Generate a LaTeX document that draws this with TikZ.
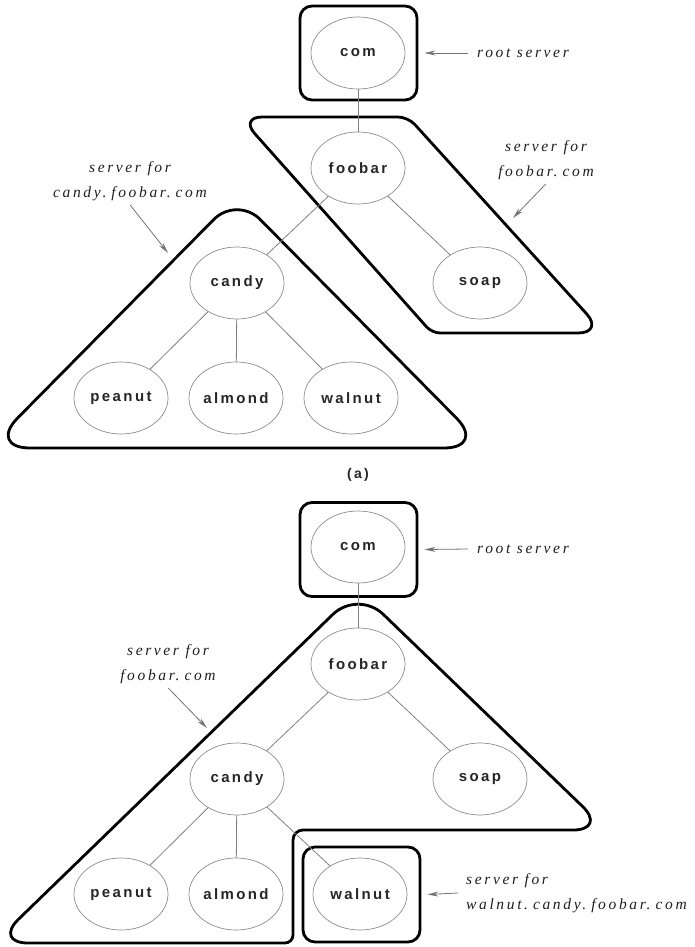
\documentclass[tikz,border=0pt]{standalone}
\usepackage{fontspec}
\usetikzlibrary{shapes.geometric,arrows.meta}
\newfontfamily\nodefont[LetterSpace=16]{Liberation Sans}
\newfontfamily\annfont[LetterSpace=17]{Liberation Serif}
\newcommand{\dt}{.\kern5pt}
\begin{document}
\begin{tikzpicture}[x=1pt,y=-1pt,
  dn/.style={ellipse, draw=black!45, line width=0.7pt, minimum width=94pt, minimum height=72pt, inner sep=0pt,
    font=\nodefont\bfseries\fontsize{15}{18}\selectfont, text=black!85},
  edge/.style={draw=black!50, line width=0.8pt},
  srv/.style={draw=black, line width=2.8pt, rounded corners=12pt, minimum width=117pt, minimum height=94pt, inner sep=0pt},
  zone/.style={draw=black, line width=2.8pt, line join=round},
  ann/.style={font=\annfont\itshape\fontsize{15.5}{25}\selectfont, text=black!88, align=center, inner sep=0pt},
  ptr/.style={draw=black!55, line width=0.8pt, -{Stealth[length=11pt,width=5pt]}},
]
\useasboundingbox (0,0) rectangle (695,947);

% ---------------- (a) ----------------
\draw[zone] (324,117) [rounded corners=22pt] -- (240,117) [rounded corners=8pt] -- (432,333) [rounded corners=26pt] -- (604,333) [rounded corners=10pt] -- (408,117) -- cycle;
\draw[zone] (237,448) [rounded corners=42pt] -- (-12,448) [rounded corners=33pt] -- (237,196) [rounded corners=42pt] -- (486,448) -- cycle;
\node[srv] (boxA) at (358.5,53) {};

\node[dn] (comA) at (358,53) {com};
\node[dn] (fooA) at (358,168) {foobar};
\node[dn] (soapA) at (480,283) {soap};
\node[dn] (candyA) at (237,283) {candy};
\node[dn] (peaA) at (121,398) {peanut};
\node[dn] (almA) at (236,398) {almond};
\node[dn] (walA) at (351,398) {walnut};

\draw[edge] (comA) -- (fooA);
\draw[edge] (fooA) -- (candyA);
\draw[edge] (fooA) -- (soapA);
\draw[edge] (candyA) -- (peaA);
\draw[edge] (candyA) -- (almA);
\draw[edge] (candyA) -- (walA);

\node[ann, anchor=west] (rootA) at (477,53) {root server};
\draw[ptr] ([xshift=-9pt]rootA.west) -- ([xshift=6pt]boxA.east);

\node[ann] (lblCandyA) at (130,181) {server for\\candy\dt foobar\dt com};
\coordinate (tCandyA) at (168,253);
\draw[ptr] ([yshift=-4pt]lblCandyA.south) -- (tCandyA);

\node[ann] (lblFooA) at (546,160) {server for\\foobar\dt com};
\coordinate (tFooA) at (513,218);
\draw[ptr] ([yshift=-4pt]lblFooA.south) -- (tFooA);

\node[font=\nodefont\bfseries\fontsize{14}{16}\selectfont, text=black!85] (capA) at (358,475) {(a)};

% ---------------- (b) ----------------
\draw[zone] (150,943) [rounded corners=34pt] -- (-6,943) [rounded corners=35pt] -- (358,590) [rounded corners=34pt] -- (607,830) [rounded corners=10pt] -- (293,830) [rounded corners=8pt] -- (293,943) -- cycle;
\node[srv] (boxB) at (358.5,549.5) {};
\node[srv, minimum height=95pt] (walBoxB) at (361.5,894.5) {};

\node[dn] (comB) at (358,547) {com};
\node[dn] (fooB) at (358,664) {foobar};
\node[dn] (soapB) at (480,779) {soap};
\node[dn] (candyB) at (237,779) {candy};
\node[dn] (peaB) at (121,894) {peanut};
\node[dn] (almB) at (236,894) {almond};
\node[dn] (walB) at (360,894) {walnut};

\draw[edge] (comB) -- (fooB);
\draw[edge] (fooB) -- (candyB);
\draw[edge] (fooB) -- (soapB);
\draw[edge] (candyB) -- (peaB);
\draw[edge] (candyB) -- (almB);
\draw[edge] (candyB) -- (walB);

\node[ann, anchor=west] (rootB) at (477,549) {root server};
\draw[ptr] ([xshift=-9pt]rootB.west) -- ([xshift=6pt]boxB.east);

\node[ann] (lblFooB) at (168,664) {server for\\foobar\dt com};
\coordinate (tFooB) at (207,728);
\draw[ptr] ([yshift=-4pt]lblFooB.south) -- (tFooB);

\node[ann, align=left, anchor=west] (lblWalB) at (466,893) {server for\\walnut\dt candy\dt foobar\dt com};
\draw[ptr] ([xshift=-8pt]lblWalB.west) -- ([xshift=6pt]walBoxB.east);
\end{tikzpicture}
\end{document}
